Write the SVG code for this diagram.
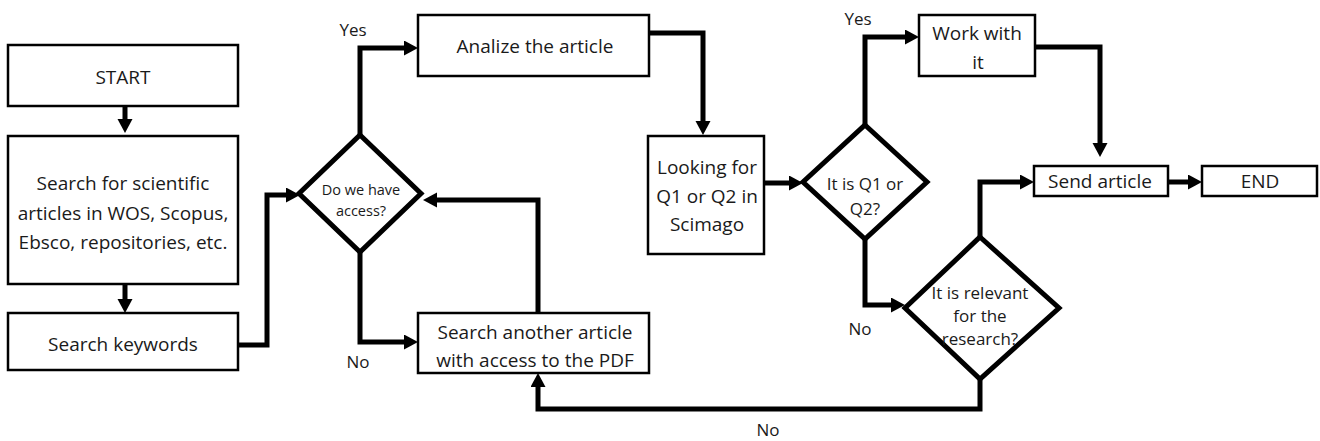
<svg xmlns="http://www.w3.org/2000/svg" width="1320" height="441" viewBox="0 0 1320 441">
<style>
.box{fill:#fff;stroke:#000;stroke-width:2.5}
.dia{fill:#fff;stroke:#000;stroke-width:5;stroke-linejoin:miter}
.t{font-family:"Open Sans","Noto Sans",sans-serif;font-size:19px;fill:#1a1a1a;text-anchor:middle;dominant-baseline:central}
.s{font-size:17px}
.xs{font-size:14.5px}
.lbl{font-family:"Open Sans","Noto Sans",sans-serif;font-size:17px;fill:#1a1a1a;text-anchor:middle;dominant-baseline:central}
.c{fill:none;stroke:#000;stroke-width:5;stroke-linejoin:miter}
</style>
<defs>
<marker id="ah" markerUnits="userSpaceOnUse" markerWidth="16" markerHeight="16" refX="1" refY="7.5" orient="auto">
<path d="M0,0 L14,7.5 L0,15 z" fill="#000"/>
</marker>
</defs>
<rect width="1320" height="441" fill="#fff"/>
<g id="connectors">
<path class="c" marker-end="url(#ah)" d="M125,106 V120"/>
<path class="c" marker-end="url(#ah)" d="M125,284 V300"/>
<path class="c" marker-end="url(#ah)" d="M238,345 H267 V195 H287"/>
<path class="c" marker-end="url(#ah)" d="M360,135 V48 H405"/>
<path class="c" marker-end="url(#ah)" d="M360,252 V342 H405"/>
<path class="c" marker-end="url(#ah)" d="M538,313 V200 H436"/>
<path class="c" marker-end="url(#ah)" d="M649,33 H703 V122"/>
<path class="c" marker-end="url(#ah)" d="M764,183 H790"/>
<path class="c" marker-end="url(#ah)" d="M865,125 V37 H906"/>
<path class="c" marker-end="url(#ah)" d="M865,239 V305 H892"/>
<path class="c" marker-end="url(#ah)" d="M1035,47 H1100 V144"/>
<path class="c" marker-end="url(#ah)" d="M980,237 V182 H1021"/>
<path class="c" marker-end="url(#ah)" d="M1168,182 H1189"/>
<path class="c" marker-end="url(#ah)" d="M980,379 V409 H538 V386"/>
<text class="lbl" x="353" y="29">Yes</text>
<text class="lbl" x="358" y="361">No</text>
<text class="lbl" x="858" y="18">Yes</text>
<text class="lbl" x="860" y="328">No</text>
<text class="lbl" x="768" y="429">No</text>
</g>
<g id="start"><rect class="box" x="8" y="45" width="230" height="61"/><text class="t" x="123" y="77">START</text></g>
<g id="search"><rect class="box" x="8" y="136" width="230" height="148"/>
<text class="t" x="123" y="183">Search for scientific</text>
<text class="t" x="123" y="213">articles in WOS, Scopus,</text>
<text class="t" x="123" y="242">Ebsco, repositories, etc.</text></g>
<g id="keywords"><rect class="box" x="8" y="313" width="230" height="57"/><text class="t" x="123" y="344">Search keywords</text></g>
<g id="access"><polygon class="dia" points="360,135 421,193.5 360,252 299,193.5"/>
<text class="t xs" x="361" y="189">Do we have</text><text class="t xs" x="361" y="210">access?</text></g>
<g id="analize"><rect class="box" x="418" y="15" width="231" height="61"/><text class="t" x="535" y="46">Analize the article</text></g>
<g id="another"><rect class="box" x="418" y="313" width="231" height="60"/>
<text class="t" x="535" y="332">Search another article</text><text class="t" x="535" y="360">with access to the PDF</text></g>
<g id="looking"><rect class="box" x="648" y="136" width="116" height="118"/>
<text class="t" x="707" y="167">Looking for</text><text class="t" x="707" y="196">Q1 or Q2 in</text><text class="t" x="707" y="224">Scimago</text></g>
<g id="q1q2"><polygon class="dia" points="865,125 927,182 865,239 803,182"/>
<text class="t s" x="865" y="183">It is Q1 or</text><text class="t s" x="865" y="208">Q2?</text></g>
<g id="work"><rect class="box" x="919" y="15" width="116" height="61"/>
<text class="t" x="977" y="33">Work with</text><text class="t" x="978" y="62">it</text></g>
<g id="relevant"><polygon class="dia" points="980,237 1059,308 980,379 905,308"/>
<text class="t s" x="980" y="292">It is relevant</text><text class="t s" x="980" y="315">for the</text><text class="t s" x="980" y="338">research?</text></g>
<g id="send"><rect class="box" x="1034" y="166" width="134" height="30"/><text class="t" x="1100" y="181">Send article</text></g>
<g id="end"><rect class="box" x="1202" y="166" width="115" height="30"/><text class="t" x="1260" y="181">END</text></g>
</svg>
